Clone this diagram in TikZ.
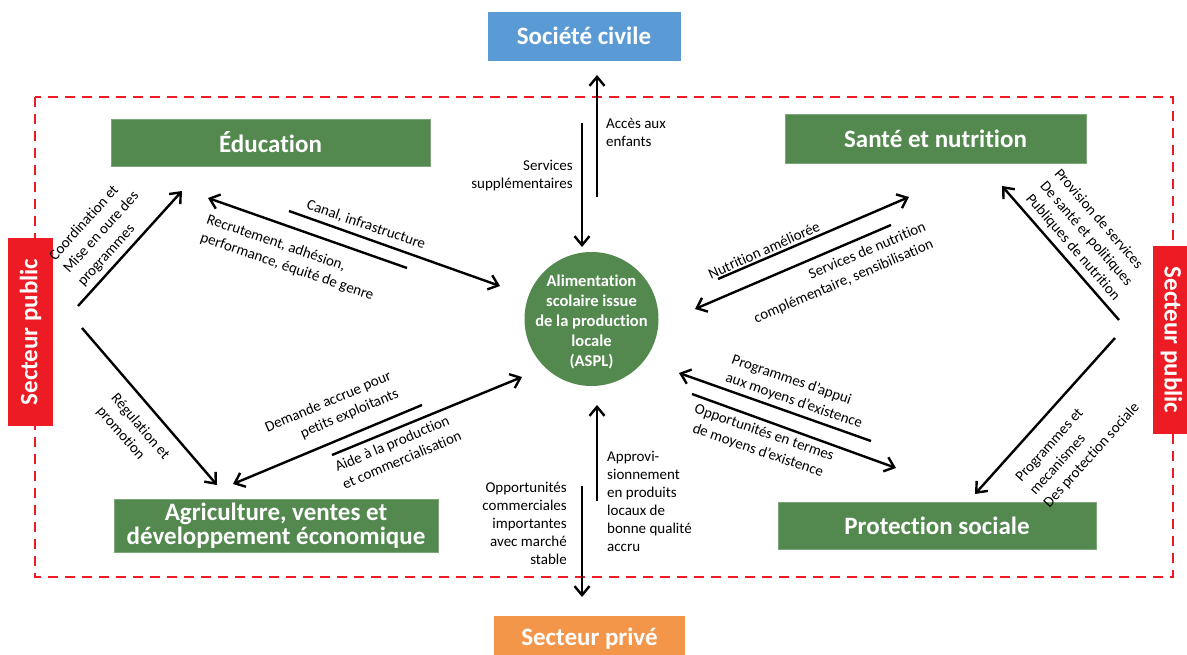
\documentclass[tikz,border=0pt]{standalone}
\usepackage{fontspec}
\setmainfont{Carlito}[Ligatures=NoCommon]
\usetikzlibrary{arrows.meta}
\definecolor{grn}{RGB}{83,137,79}
\definecolor{blu}{RGB}{91,155,213}
\definecolor{org}{RGB}{243,150,74}
\definecolor{rd}{RGB}{237,28,36}
\tikzset{
  box/.style={fill=grn, draw=grn!75!white, line width=0.6pt, text=white, font=\bfseries\fontsize{25}{24}\selectfont, align=center, inner sep=0pt},
  lbl/.style={font=\fontsize{15}{18}\selectfont, inner sep=0pt},
  rlbl/.style={font=\fontsize{15}{19}\selectfont, inner sep=0pt},
  arr/.style={line width=2.4pt, -{Straight Barb[length=9pt,width=15pt]}},
  pub/.style={fill=rd, text=white, font=\bfseries\fontsize{25}{30}\selectfont, inner sep=0pt},
  frame/.style={draw=rd, line width=2pt, dash pattern=on 10pt off 7pt},
}
\begin{document}
\begin{tikzpicture}[x=1pt,y=-1pt]
\useasboundingbox[fill=white] (0,0) rectangle (1187,655);
% dashed frame
\draw[frame] (35,97) rectangle (1173,577);
% boxes
\node[box, fill=blu, draw=blu, minimum width=192, minimum height=48] (civ) at (584,36) {Société civile};
\node[box, fill=org, draw=org, minimum width=190, minimum height=46] (priv) at (589.5,639) {Secteur privé};
\node[box, minimum width=319, minimum height=47] (edu) at (270.5,142.5) {Éducation};
\node[box, minimum width=301, minimum height=49] (sante) at (935.5,138.5) {Santé et nutrition};
\node[box, minimum width=324, minimum height=53] (agri) at (276,525.5) {Agriculture, ventes et\\développement économique};
\node[box, minimum width=318, minimum height=47] (prot) at (937,525.5) {Protection sociale};
\node[pub, rotate=90, minimum width=188, minimum height=45] (publ) at (30.5,332) {Secteur public};
\node[pub, rotate=-90, minimum width=188, minimum height=37] (pubr) at (1171.5,340) {Secteur public};
% centre
\node[circle, fill=grn, minimum size=134, inner sep=0pt] (aspl) at (591.5,319) {};
\node[font=\bfseries\fontsize{16.5}{20}\selectfont, text=white, align=center, inner sep=0pt] (asplt) at (591.5,322) {Alimentation\\scolaire issue\\de la production\\locale\\(ASPL)};
% arrow end points
\coordinate (a1s) at (597,197);  \coordinate (a1e) at (597,75);
\coordinate (a2s) at (582,123);  \coordinate (a2e) at (582,247);
\coordinate (a3s) at (597,501);  \coordinate (a3e) at (597,405);
\coordinate (a4s) at (582,486);  \coordinate (a4e) at (582,597);
\coordinate (a5s) at (78,306);   \coordinate (a5e) at (182,191);
\coordinate (a6s) at (82,328);   \coordinate (a6e) at (217,485);
\coordinate (a7s) at (407,268);  \coordinate (a7e) at (208,198);
\coordinate (a8s) at (289,211);  \coordinate (a8e) at (500,286);
\coordinate (a9s) at (422,405);  \coordinate (a9e) at (233,484);
\coordinate (a10s) at (332,455); \coordinate (a10e) at (522,377);
\coordinate (a11s) at (718,279); \coordinate (a11e) at (909,197);
\coordinate (a12s) at (891,225); \coordinate (a12e) at (695,309);
\coordinate (a13s) at (871,441); \coordinate (a13e) at (679,373);
\coordinate (a14s) at (692,394); \coordinate (a14e) at (896,468);
\coordinate (a15s) at (1119,320); \coordinate (a15e) at (1002,186);
\coordinate (a16s) at (1115,338); \coordinate (a16e) at (975,494);
\foreach \i in {1,...,16} { \draw[arr] (a\i s) -- (a\i e); }
% labels
\node[lbl, align=left, anchor=west] (l1) at (606,132) {Accès aux\\enfants};
\node[lbl, align=right, anchor=east] (l2) at (573,176) {Services\\supplémentaires};
\node[lbl, align=left, anchor=west] (l3) at (607,501) {Approvi-\\sionnement\\en produits\\locaux de\\bonne qualité\\accru};
\node[lbl, align=right, anchor=east] (l4) at (567,523) {Opportunités\\commerciales\\importantes\\avec marché\\stable};
\node[rlbl, align=left, rotate=48] (l5) at (101.5,232.5) {Coordination et\\Mise en oure des\\programmes};
\node[rlbl, align=left, rotate=-49] (l6) at (133,433) {Régulation et\\promotion};
\node[rlbl, align=left, rotate=-19] (l7) at (290,258) {Recrutement, adhésion,\\performance, équité de genre};
\node[rlbl, rotate=-19] (l8) at (366,225) {Canal, infrastructure};
\node[rlbl, align=right, rotate=23] (l9) at (332,411) {Demande accrue pour\\petits exploitants};
\node[rlbl, align=left, rotate=23] (l10) at (398,451) {Aide à la production\\et commercialisation};
\node[rlbl, rotate=24] (l11) at (764,250) {Nutrition améliorée};
\node[rlbl, align=right, rotate=23] (l12) at (840,273) {Services de nutrition\\complémentaire, sensibilisation};
\node[rlbl, align=left, rotate=-19] (l13) at (797,392) {Programmes d’appui\\aux moyens d’existence};
\node[rlbl, align=center, rotate=-19] (l14) at (761,442) {Opportunités en termes\\de moyens d’existence};
\node[rlbl, align=left, rotate=-49] (l15) at (1087,235) {Provision de services\\De santé et politiques\\Publiques de nutrition};
\node[rlbl, align=left, rotate=48] (l16) at (1078,443) {Programmes et\\mecanismes\\Des protection sociale};
\end{tikzpicture}
\end{document}
